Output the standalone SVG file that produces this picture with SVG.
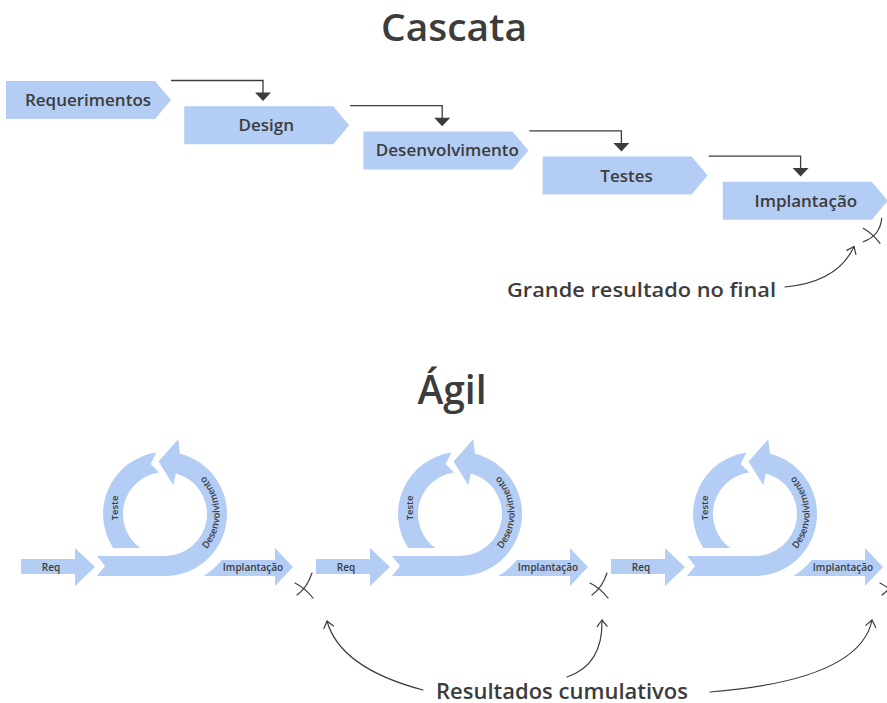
<svg xmlns="http://www.w3.org/2000/svg" xmlns:xlink="http://www.w3.org/1999/xlink" width="887" height="703" viewBox="0 0 887 703">
<style>
.box{fill:#b4cdf5}
.t{font-family:"Open Sans","Noto Sans",sans-serif;font-weight:600;fill:#3c3c3c}
.bt{font-size:17px;text-anchor:middle}
.st{font-size:10px;text-anchor:middle}
.ln{fill:none;stroke:#3c3c3c;stroke-width:1.3}
.cv{fill:none;stroke:#3c3c3c;stroke-width:1.2;stroke-linecap:round}
.ah{fill:#3c3c3c}
</style>
<defs>
<marker id="chev" viewBox="-9 -7 11 14" markerWidth="11" markerHeight="14" refX="0" refY="0" orient="auto" markerUnits="userSpaceOnUse">
<path d="M-6.5,-5 L0,0 L-6.5,5" fill="none" stroke="#3c3c3c" stroke-width="1.2" stroke-linecap="round" stroke-linejoin="round"/>
</marker>
<path id="devArc" d="M204.86,551.17 A54.5,54.5 0 0 0 202.17,474.14"/>
</defs>

<text class="t" x="454" y="40.5" font-size="38" text-anchor="middle" textLength="146" lengthAdjust="spacingAndGlyphs">Cascata</text>

<g id="cas-req"><path class="box" d="M6,81 H155 L171,100 L155,119 H6 Z"/><text class="t bt" x="88" y="106">Requerimentos</text></g>
<g id="cas-design"><path class="box" d="M184.2,106.2 H333.2 L349.2,125.2 L333.2,144.2 H184.2 Z"/><text class="t bt" x="266.2" y="131.2">Design</text></g>
<g id="cas-desenv"><path class="box" d="M363.4,131.4 H512.4 L528.4,150.4 L512.4,169.4 H363.4 Z"/><text class="t bt" x="447.4" y="156.4">Desenvolvimento</text></g>
<g id="cas-testes"><path class="box" d="M542.6,156.6 H691.6 L707.6,175.6 L691.6,194.6 H542.6 Z"/><text class="t bt" x="626.6" y="181.6">Testes</text></g>
<g id="cas-impl"><path class="box" d="M722.8,181.8 H871.8 L887.8,200.8 L871.8,219.8 H722.8 Z"/><text class="t bt" x="805.8" y="206.8">Implantação</text></g>

<g id="connectors">
<path class="ln" d="M171,80.5 H263 V94"/><polygon class="ah" points="255,92.5 271,92.5 263,101"/>
<path class="ln" d="M350.2,105.7 H442.2 V119.2"/><polygon class="ah" points="434.2,117.7 450.2,117.7 442.2,126.2"/>
<path class="ln" d="M529.4,130.9 H621.4 V144.4"/><polygon class="ah" points="613.4,142.9 629.4,142.9 621.4,151.4"/>
<path class="ln" d="M708.6,156.1 H800.6 V169.6"/><polygon class="ah" points="792.6,168.1 808.6,168.1 800.6,176.6"/>
<path class="cv" d="M785,287 Q838,282 854,246.5" marker-end="url(#chev)"/>
<path class="cv" d="M423,690 Q340,668 327,621" marker-end="url(#chev)"/>
<path class="cv" d="M567,677 Q603,665 602,620" marker-end="url(#chev)"/>
<path class="cv" d="M710,692 Q860,680 872,620" marker-end="url(#chev)"/>
</g>

<g id="marks">
<path class="cv" d="M863.3,228.3 Q873,234 880,243.3 M881.7,218.3 Q880,236 863.3,241.7"/>
<path class="cv" d="M295,583 Q305,588 313,598 M312,573 Q307,588 297,595"/>
<path class="cv" d="M590,583 Q600,588 608,598 M607,573 Q602,588 592,595"/>
<path class="cv" d="M880,583 Q890,588 898,598 M897,573 Q892,588 882,595"/>
</g>

<text class="t" x="507" y="297" font-size="20" textLength="269" lengthAdjust="spacingAndGlyphs">Grande resultado no final</text>

<text class="t" x="452" y="404" font-size="39" text-anchor="middle">Ágil</text>

<g id="sprint1">
<g id="s1-req"><path class="box" d="M21,559 H75 V548 L95,567 L75,586 V574 H21 Z"/><text class="t st" x="51" y="570.5">Req</text></g>
<g id="s1-loop">
<path class="box" d="M97,556 H165 A42,42 0 0 0 175.87,473.43 L173.27,485.16 L158.54,461.4 L178.2,439.15 L180,453.84 A62,62 0 0 1 165,576 H97 L105,566 Z"/>
<path class="box" d="M113.2,548 A62,62 0 0 1 156.37,452.6 L150.67,464 L159.15,472.4 A42,42 0 0 0 140.3,548 Z"/>
<text class="t" font-size="9.5" transform="translate(118,508) rotate(-90)" text-anchor="middle">Teste</text>
<text class="t" font-size="9.5"><textPath href="#devArc" xlink:href="#devArc" startOffset="50%" text-anchor="middle">Desenvolvimento</textPath></text>
</g>
<g id="s1-impl"><path class="box" d="M221.7,560 H275 V548 L293,567 L275,586 V576 H203.5 A73,73 0 0 0 221.7,560 Z"/><text class="t st" x="253" y="570.5">Implantação</text></g>
</g>

<g id="sprint2" transform="translate(295,0)">
<g id="s2-req"><path class="box" d="M21,559 H75 V548 L95,567 L75,586 V574 H21 Z"/><text class="t st" x="51" y="570.5">Req</text></g>
<g id="s2-loop">
<path class="box" d="M97,556 H165 A42,42 0 0 0 175.87,473.43 L173.27,485.16 L158.54,461.4 L178.2,439.15 L180,453.84 A62,62 0 0 1 165,576 H97 L105,566 Z"/>
<path class="box" d="M113.2,548 A62,62 0 0 1 156.37,452.6 L150.67,464 L159.15,472.4 A42,42 0 0 0 140.3,548 Z"/>
<text class="t" font-size="9.5" transform="translate(118,508) rotate(-90)" text-anchor="middle">Teste</text>
<text class="t" font-size="9.5"><textPath href="#devArc" xlink:href="#devArc" startOffset="50%" text-anchor="middle">Desenvolvimento</textPath></text>
</g>
<g id="s2-impl"><path class="box" d="M221.7,560 H275 V548 L293,567 L275,586 V576 H203.5 A73,73 0 0 0 221.7,560 Z"/><text class="t st" x="253" y="570.5">Implantação</text></g>
</g>

<g id="sprint3" transform="translate(590,0)">
<g id="s3-req"><path class="box" d="M21,559 H75 V548 L95,567 L75,586 V574 H21 Z"/><text class="t st" x="51" y="570.5">Req</text></g>
<g id="s3-loop">
<path class="box" d="M97,556 H165 A42,42 0 0 0 175.87,473.43 L173.27,485.16 L158.54,461.4 L178.2,439.15 L180,453.84 A62,62 0 0 1 165,576 H97 L105,566 Z"/>
<path class="box" d="M113.2,548 A62,62 0 0 1 156.37,452.6 L150.67,464 L159.15,472.4 A42,42 0 0 0 140.3,548 Z"/>
<text class="t" font-size="9.5" transform="translate(118,508) rotate(-90)" text-anchor="middle">Teste</text>
<text class="t" font-size="9.5"><textPath href="#devArc" xlink:href="#devArc" startOffset="50%" text-anchor="middle">Desenvolvimento</textPath></text>
</g>
<g id="s3-impl"><path class="box" d="M221.7,560 H275 V548 L293,567 L275,586 V576 H203.5 A73,73 0 0 0 221.7,560 Z"/><text class="t st" x="253" y="570.5">Implantação</text></g>
</g>

<text class="t" x="436" y="698.5" font-size="21" textLength="252" lengthAdjust="spacingAndGlyphs">Resultados cumulativos</text>
</svg>
